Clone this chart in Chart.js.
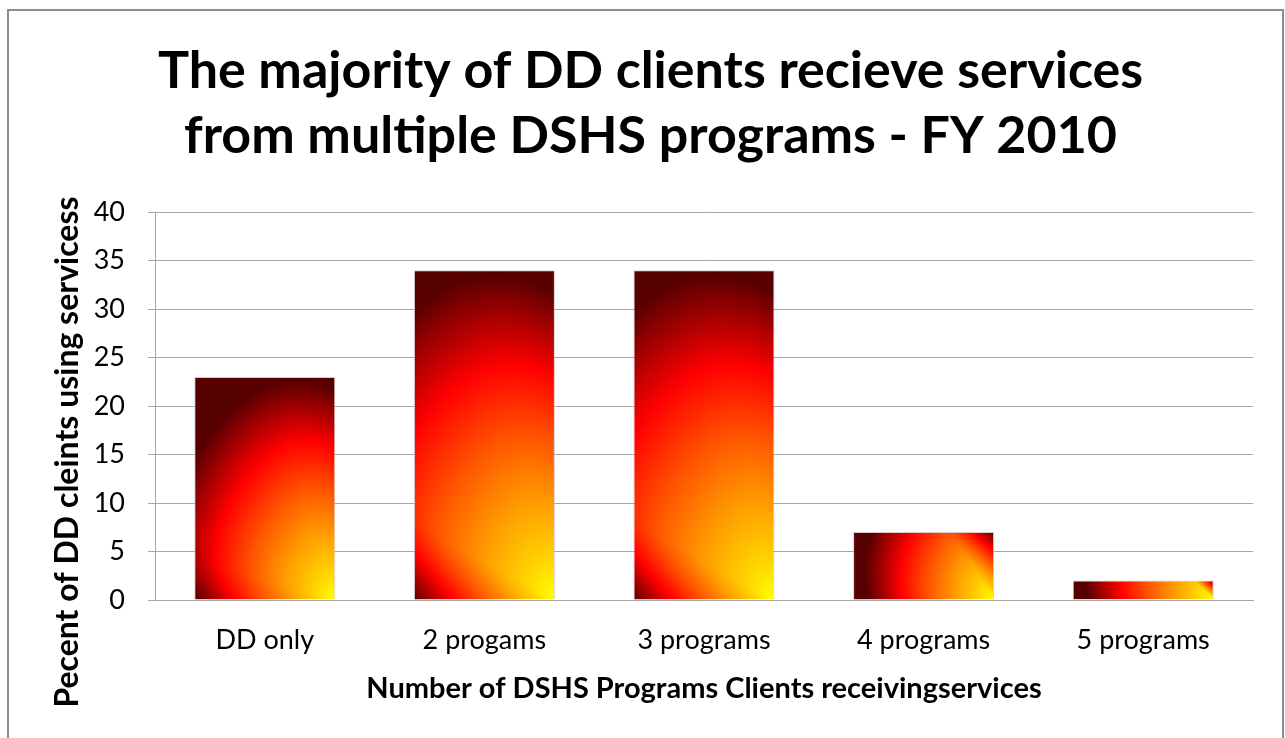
<!DOCTYPE html>
<html>
<head>
<meta charset="utf-8">
<script src="https://cdn.jsdelivr.net/npm/chart.js@4.4.1/dist/chart.umd.min.js"></script>
<style>
    html, body { margin: 0; padding: 0; background: #fff; overflow: hidden; }
    #frame { position: absolute; left: 7px; top: 9px; width: 1273px; height: 800px; border: 2px solid #8c8c8c; }
    #chart { position: absolute; left: 0; top: 0; }
</style>
</head>
<body>
<div id="frame"></div>
<canvas id="chart" width="1285" height="738"></canvas>
<script>
// Chart data
const titleLines = ['The majority of DD clients recieve services', 'from multiple DSHS programs - FY 2010'];
const categories = ['DD only', '2 progams', '3 programs', '4 programs', '5 programs'];
const percentValues = [23, 34, 34, 7, 2];
const yMin = 0;
const yMax = 40;
const yStep = 5;
const xAxisTitle = 'Number of DSHS Programs Clients receivingservices';
const yAxisTitle = 'Pecent of DD cleints using servicess';

const FONT = "Lato, 'Open Sans', sans-serif";
const BAR_FRACTION = 0.642;

// colour ramp of the "fire" fill, 0 = bottom-right corner
const fireStops = [
    [0, [255, 255, 0]],
    [0.12, [255, 212, 0]],
    [0.3, [255, 156, 0]],
    [0.5, [255, 86, 0]],
    [0.72, [255, 0, 0]],
    [0.87, [165, 0, 0]],
    [1, [86, 0, 0]]
];

function rampColor(t) {
    t = Math.max(0, Math.min(1, t));
    for (let k = 1; k < fireStops.length; k++) {
        const [t1, c1] = fireStops[k];
        const [t0, c0] = fireStops[k - 1];
        if (t <= t1) {
            const f = (t - t0) / (t1 - t0);
            return c0.map((v, j) => Math.round(v + (c1[j] - v) * f));
        }
    }
    return fireStops[fireStops.length - 1][1];
}

// builds a pattern the size of one bar, shaded from its bottom-right corner
function makeFirePattern(ctx, w, h) {
    const W = Math.max(1, Math.round(w));
    const H = Math.max(1, Math.round(h));
    const off = document.createElement('canvas');
    off.width = W;
    off.height = H;
    const octx = off.getContext('2d');
    const img = octx.createImageData(W, H);
    const R = Math.max(1.25 * W, 1.05 * H);
    const p = 8;
    for (let y = 0; y < H; y++) {
        const dy = H - 1 - y;
        for (let x = 0; x < W; x++) {
            const dx = W - 1 - x;
            const tc = Math.sqrt((1.33 * dx) * (1.33 * dx) + dy * dy) / R;
            const tb = Math.max(0, dx / W - dy / (1.2 * W));
            const tr = Math.max(0, dy / H - dx / (1.2 * H));
            // soft max so the corner shading blends in
            const t = Math.pow(Math.pow(tc, p) + Math.pow(tb, p) + Math.pow(tr, p), 1 / p);
            const c = rampColor(t);
            const q = (y * W + x) * 4;
            img.data[q] = c[0];
            img.data[q + 1] = c[1];
            img.data[q + 2] = c[2];
            img.data[q + 3] = 255;
        }
    }
    octx.putImageData(img, 0, 0);
    return ctx.createPattern(off, 'no-repeat');
}

function fireFill(context) {
    const chart = context.chart;
    if (!chart.chartArea || context.dataIndex === undefined) return '#ff6000';
    const xs = chart.scales.x;
    const ys = chart.scales.y;
    const i = context.dataIndex;
    const step = xs.getPixelForValue(1) - xs.getPixelForValue(0);
    const w = step * BAR_FRACTION;
    const left = xs.getPixelForValue(i) - w / 2;
    const top = ys.getPixelForValue(percentValues[i]);
    const h = ys.getPixelForValue(0) - top;
    const pattern = makeFirePattern(chart.ctx, w, h);
    pattern.setTransform(new DOMMatrix().translate(left, top));
    return pattern;
}

// Rotated y-axis title, placed like the original (a little below the plot centre)
const yTitlePlugin = {
    id: 'yTitle',
    afterDraw(chart) {
        const ctx = chart.ctx;
        ctx.save();
        ctx.translate(68, 452);
        ctx.rotate(-Math.PI / 2);
        ctx.font = 'bold 32px ' + FONT;
        ctx.fillStyle = '#000';
        ctx.textAlign = 'center';
        ctx.textBaseline = 'middle';
        ctx.fillText(yAxisTitle, 0, 0);
        ctx.restore();
    }
};

new Chart(document.getElementById('chart').getContext('2d'), {
    type: 'bar',
    data: {
        labels: categories,
        datasets: [{
            data: percentValues,
            backgroundColor: fireFill,
            borderColor: 'rgba(215, 195, 195, 0.9)',
            borderWidth: 1,
            categoryPercentage: 1,
            barPercentage: BAR_FRACTION
        }]
    },
    options: {
        responsive: false,
        animation: false,
        devicePixelRatio: 1,
        layout: { padding: { left: 48, right: 32, top: 0, bottom: 28 } },
        plugins: {
            legend: { display: false },
            tooltip: { enabled: false },
            title: {
                display: true,
                text: titleLines,
                color: '#000',
                font: { family: FONT, size: 52, weight: 'bold', lineHeight: 1.26 },
                padding: { top: 38, bottom: 43 }
            }
        },
        scales: {
            x: {
                afterFit: (scale) => { scale.height = 110; },
                grid: { display: false, drawTicks: false },
                border: { display: true, color: '#a6a6a6', width: 1 },
                ticks: { color: '#000', padding: 24, font: { family: FONT, size: 27 } },
                title: {
                    display: true,
                    text: xAxisTitle,
                    color: '#000',
                    font: { family: FONT, size: 29, weight: 'bold' },
                    padding: 4
                }
            },
            y: {
                min: yMin,
                max: yMax,
                afterFit: (scale) => { scale.width = 107; },
                grid: { color: '#a6a6a6', lineWidth: 1, tickLength: 7 },
                border: { display: true, color: '#a6a6a6', width: 1 },
                ticks: { stepSize: yStep, color: '#000', padding: 23, font: { family: FONT, size: 27 } }
            }
        }
    },
    plugins: [yTitlePlugin]
});
</script>
</body>
</html>
